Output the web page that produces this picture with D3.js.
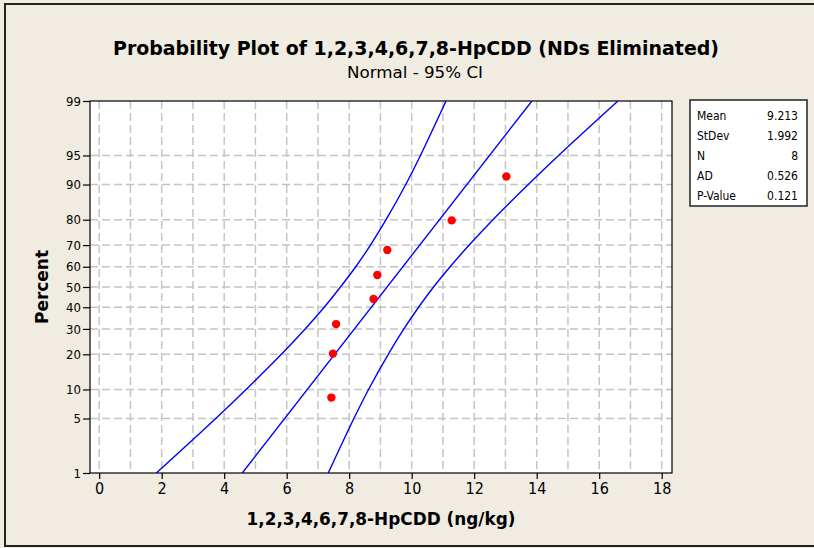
<!DOCTYPE html>
<html>
<head>
<meta charset="utf-8">
<script src="https://cdn.jsdelivr.net/npm/d3@7"></script>
<style>
  html, body { margin: 0; padding: 0; background: #F0ECE2; }
  svg { display: block; }
  text { font-family: "DejaVu Sans Condensed", "DejaVu Sans", sans-serif; fill: #000; }
</style>
</head>
<body>
<svg id="chart" width="814" height="548"></svg>
<script>
// Probability-scale tick levels (percent) and x-axis tick values
const percentTicks = [1, 5, 10, 20, 30, 40, 50, 60, 70, 80, 90, 95, 99];
const xTicks = [0, 2, 4, 6, 8, 10, 12, 14, 16, 18];
const xGrid = d3.range(0, 19);

// Observed concentrations (sorted) and their median-rank plotting positions
const sampleValues = [7.43, 7.48, 7.58, 8.78, 8.90, 9.22, 11.28, 13.03];
const plotPercents = [8.33, 20.24, 32.14, 44.05, 55.95, 67.86, 79.76, 91.67];

// Fitted normal distribution
const fitMean = 9.213;
const fitStDev = 1.992;

// 95% confidence band, x positions at each percent level
const bandPercents = [1, 5, 10, 20, 30, 40, 50, 60, 70, 80, 90, 95, 99];
const lowerBand = [1.83, 3.73, 4.70, 5.83, 6.59, 7.20, 7.72, 8.21, 8.68, 9.18, 9.81, 10.28, 11.10];
const upperBand = [7.33, 8.15, 8.62, 9.25, 9.75, 10.22, 10.70, 11.23, 11.84, 12.60, 13.73, 14.70, 16.60];

// Summary statistics table
const statLabels = ["Mean", "StDev", "N", "AD", "P-Value"];
const statValues = ["9.213", "1.992", "8", "0.526", "0.121"];

// Inverse standard normal CDF (Acklam's rational approximation)
function probit(p) {
  const a = [-3.969683028665376e+01, 2.209460984245205e+02, -2.759285104469687e+02,
             1.383577518672690e+02, -3.066479806614716e+01, 2.506628277459239e+00];
  const b = [-5.447609879822406e+01, 1.615858368580409e+02, -1.556989798598866e+02,
             6.680131188771972e+01, -1.328068155288572e+01];
  const c = [-7.784894002430293e-03, -3.223964580411365e-01, -2.400758277161838e+00,
             -2.549732539343734e+00, 4.374664141464968e+00, 2.938163982698783e+00];
  const d = [7.784695709041462e-03, 3.224671290700398e-01, 2.445134137142996e+00,
             3.754408661907416e+00];
  const pl = 0.02425, ph = 1 - pl;
  let q, r;
  if (p < pl) {
    q = Math.sqrt(-2 * Math.log(p));
    return (((((c[0]*q+c[1])*q+c[2])*q+c[3])*q+c[4])*q+c[5]) /
           ((((d[0]*q+d[1])*q+d[2])*q+d[3])*q+1);
  }
  if (p <= ph) {
    q = p - 0.5; r = q * q;
    return (((((a[0]*r+a[1])*r+a[2])*r+a[3])*r+a[4])*r+a[5])*q /
           (((((b[0]*r+b[1])*r+b[2])*r+b[3])*r+b[4])*r+1);
  }
  q = Math.sqrt(-2 * Math.log(1 - p));
  return -(((((c[0]*q+c[1])*q+c[2])*q+c[3])*q+c[4])*q+c[5]) /
          ((((d[0]*q+d[1])*q+d[2])*q+d[3])*q+1);
}

const svg = d3.select("#chart");
const plot = { left: 90, right: 672, top: 101, bottom: 473 };

// Outer frame
svg.append("rect")
  .attr("x", 5).attr("y", 4).attr("width", 830).attr("height", 542)
  .attr("fill", "#F0ECE2").attr("stroke", "#222").attr("stroke-width", 2);

const x = d3.scaleLinear().domain([-0.294, 18.33]).range([plot.left, plot.right]);
const zScale = d3.scaleLinear().domain([probit(0.01), probit(0.99)]).range([plot.bottom, plot.top]);
const y = pct => zScale(probit(pct / 100));

// Plot background
svg.append("rect")
  .attr("x", plot.left).attr("y", plot.top)
  .attr("width", plot.right - plot.left).attr("height", plot.bottom - plot.top)
  .attr("fill", "#fff");

// Dashed grid
const grid = svg.append("g")
  .attr("stroke", "#C4C4C4").attr("stroke-width", 1.5).attr("stroke-dasharray", "8,4");
grid.selectAll("line.v").data(xGrid).join("line")
  .attr("x1", d => x(d)).attr("x2", d => x(d))
  .attr("y1", plot.top).attr("y2", plot.bottom);
grid.selectAll("line.h").data(percentTicks.filter(p => p > 1 && p < 99)).join("line")
  .attr("x1", plot.left).attr("x2", plot.right)
  .attr("y1", d => y(d)).attr("y2", d => y(d));

// Confidence band and fitted line
svg.append("clipPath").attr("id", "plotclip").append("rect")
  .attr("x", plot.left).attr("y", plot.top)
  .attr("width", plot.right - plot.left).attr("height", plot.bottom - plot.top);

const lines = svg.append("g").attr("clip-path", "url(#plotclip)")
  .attr("fill", "none").attr("stroke", "#0000FF").attr("stroke-width", 1.4);

const bandLine = d3.line()
  .x(d => x(d[0])).y(d => y(d[1]))
  .curve(d3.curveCatmullRom.alpha(0.5));

lines.append("path").attr("d", bandLine(bandPercents.map((p, i) => [lowerBand[i], p])));
lines.append("path").attr("d", bandLine(bandPercents.map((p, i) => [upperBand[i], p])));

const fitEnds = [1, 99].map(p => [fitMean + fitStDev * probit(p / 100), p]);
lines.append("path").attr("d", d3.line().x(d => x(d[0])).y(d => y(d[1]))(fitEnds));

// Data points
svg.append("g").selectAll("circle").data(sampleValues).join("circle")
  .attr("cx", d => x(d)).attr("cy", (d, i) => y(plotPercents[i]))
  .attr("r", 4.2).attr("fill", "#FF0000");

// Plot border
svg.append("rect")
  .attr("x", plot.left).attr("y", plot.top)
  .attr("width", plot.right - plot.left).attr("height", plot.bottom - plot.top)
  .attr("fill", "none").attr("stroke", "#000").attr("stroke-width", 1.2);

// X axis
const xAxis = d3.axisBottom(x).tickValues(xTicks).tickSize(6).tickPadding(4).tickFormat(d3.format("d"));
const gx = svg.append("g").attr("transform", `translate(0,${plot.bottom})`).call(xAxis);
gx.select(".domain").remove();
gx.selectAll(".tick line").attr("stroke", "#000").attr("stroke-width", 1.2);
gx.selectAll(".tick text").style("font-size", "16px");

// Y axis on the probability scale
const yAxis = d3.axisLeft(zScale)
  .tickValues(percentTicks.map(p => probit(p / 100)))
  .tickFormat((d, i) => percentTicks[i])
  .tickSize(7).tickPadding(2);
const gy = svg.append("g").attr("transform", `translate(${plot.left},0)`).call(yAxis);
gy.select(".domain").remove();
gy.selectAll(".tick line").attr("stroke", "#000").attr("stroke-width", 1.2);
gy.selectAll(".tick text").style("font-size", "13px");

// Titles
svg.append("text")
  .attr("x", 416).attr("y", 55).attr("text-anchor", "middle")
  .style("font-size", "20px").style("font-weight", "bold")
  .attr("textLength", 606).attr("lengthAdjust", "spacingAndGlyphs")
  .text("Probability Plot of 1,2,3,4,6,7,8-HpCDD (NDs Eliminated)");
svg.append("text")
  .attr("x", 415).attr("y", 78).attr("text-anchor", "middle")
  .style("font-size", "16px")
  .attr("textLength", 136).attr("lengthAdjust", "spacingAndGlyphs")
  .text("Normal - 95% CI");

// Axis titles
svg.append("text")
  .attr("x", (plot.left + plot.right) / 2).attr("y", 525).attr("text-anchor", "middle")
  .style("font-size", "17px").style("font-weight", "bold")
  .attr("textLength", 269).attr("lengthAdjust", "spacingAndGlyphs")
  .text("1,2,3,4,6,7,8-HpCDD (ng/kg)");
svg.append("text")
  .attr("transform", `translate(48,${(plot.top + plot.bottom) / 2}) rotate(-90)`)
  .attr("text-anchor", "middle")
  .style("font-size", "17px").style("font-weight", "bold")
  .attr("textLength", 74).attr("lengthAdjust", "spacingAndGlyphs")
  .text("Percent");

// Statistics table
const box = { x: 690, y: 100, w: 117, h: 106 };
svg.append("rect")
  .attr("x", box.x).attr("y", box.y).attr("width", box.w).attr("height", box.h)
  .attr("fill", "#fff").attr("stroke", "#222").attr("stroke-width", 1.5);
const rows = svg.append("g").selectAll("g").data(statLabels).join("g")
  .attr("transform", (d, i) => `translate(0,${box.y + 20 + i * 20})`);
rows.append("text").attr("x", 697).style("font-size", "12px").text(d => d);
rows.append("text").attr("x", 798).attr("text-anchor", "end").style("font-size", "12px")
  .text((d, i) => statValues[i]);
</script>
</body>
</html>
